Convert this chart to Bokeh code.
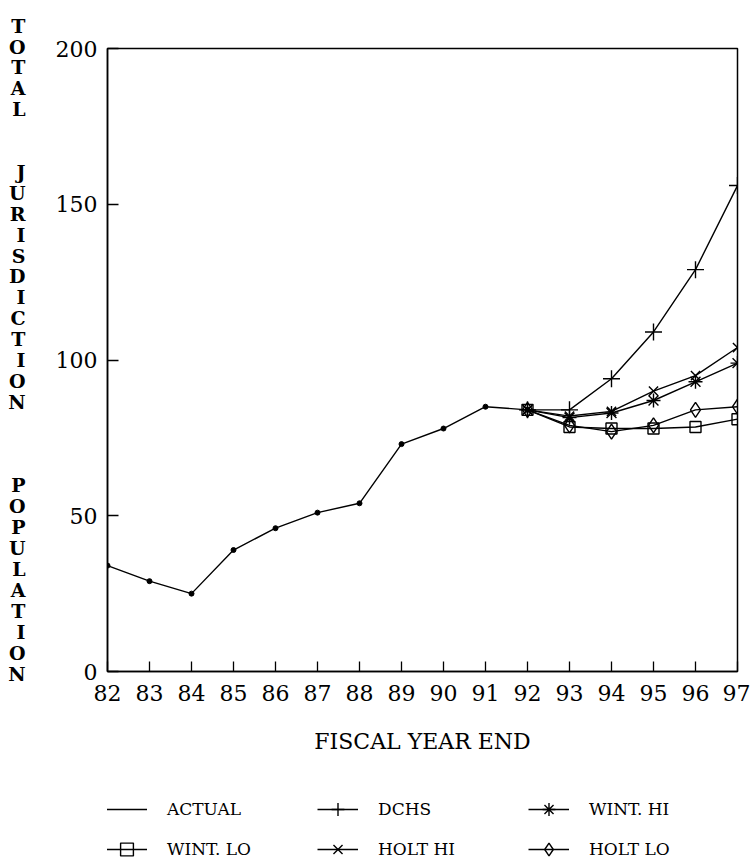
from bokeh.plotting import figure
from bokeh.layouts import column
from bokeh.models import Legend, LegendItem, FixedTicker, Range1d
from bokeh.embed import file_html
from bokeh.resources import INLINE

# ---- data ----
years_actual = [82, 83, 84, 85, 86, 87, 88, 89, 90, 91, 92]
actual = [34, 29, 25, 39, 46, 51, 54, 73, 78, 85, 84]

years_fc = [92, 93, 94, 95, 96, 97]
dchs = [84, 84, 94, 109, 129, 156]
wint_hi = [84, 81.5, 83, 87, 93, 99]
wint_lo = [84, 78.5, 78, 78, 78.5, 81]
holt_hi = [84, 82, 83.5, 90, 95, 104]
holt_lo = [84, 79, 77, 79, 84, 85]

x_ticks = list(range(82, 98))
y_ticks = [0, 50, 100, 150, 200]
x_label = "FISCAL YEAR END"
y_label_words = ["TOTAL", "JURISDICTION", "POPULATION"]
series_names = ["ACTUAL", "DCHS", "WINT. HI", "WINT. LO", "HOLT HI", "HOLT LO"]

FONT = "DejaVu Serif"
LW = 1.4
# marker styles per forecast series (name -> (marker, size))
styles = {"DCHS": ("cross", 17), "WINT. HI": ("asterisk", 14), "WINT. LO": ("square", 11),
          "HOLT HI": ("x", 13), "HOLT LO": ("diamond", 15)}
fc_values = {"DCHS": dchs, "WINT. HI": wint_hi, "WINT. LO": wint_lo,
             "HOLT HI": holt_hi, "HOLT LO": holt_lo}

# ------------------------------------------------------------------ main chart
p = figure(width=750, height=760, output_backend="svg", toolbar_location=None,
           x_range=Range1d(82, 97), y_range=Range1d(0, 200),
           min_border_left=107, min_border_right=13, min_border_top=48,
           min_border_bottom=89)
p.grid.visible = False
p.outline_line_color = "black"
p.outline_line_width = 1.5
p.background_fill_color = "white"
p.border_fill_color = "white"

for ax in (p.xaxis[0], p.yaxis[0]):
    ax.axis_line_color = "black"
    ax.axis_line_width = 1.5
    ax.major_tick_line_color = "black"
    ax.major_tick_line_width = 1.3
    ax.major_tick_out = 0
    ax.minor_tick_line_color = None
    ax.major_label_text_font = FONT
    ax.major_label_text_font_size = "22px"
    ax.major_label_text_color = "black"

p.xaxis.ticker = FixedTicker(ticks=x_ticks)
p.yaxis.ticker = FixedTicker(ticks=y_ticks)
p.xaxis.major_tick_in = 10
p.yaxis.major_tick_in = 11
p.xaxis.major_label_standoff = 13
p.yaxis.major_label_standoff = 10

p.xaxis.axis_label = x_label
p.xaxis.axis_label_text_font = FONT
p.xaxis.axis_label_text_font_size = "22px"
p.xaxis.axis_label_text_font_style = "normal"
p.xaxis.axis_label_text_color = "black"
p.xaxis.axis_label_standoff = 25

# stacked vertical y-axis title (letters one under another)
y_lines = list(y_label_words[0]) + [" ", " "] + list(y_label_words[1]) + [" ", " ", " "] \
    + list(y_label_words[2]) + [" "]
p.yaxis.axis_label = "\n".join(y_lines)
p.yaxis.axis_label_orientation = "horizontal"
p.yaxis.axis_label_text_font = FONT
p.yaxis.axis_label_text_font_style = "bold"
p.yaxis.axis_label_text_font_size = "19px"
p.yaxis.axis_label_text_color = "black"
p.yaxis.axis_label_text_line_height = 0.95
p.yaxis.axis_label_text_align = "center"
p.yaxis.axis_label_standoff = 27

p.line(years_actual, actual, line_color="black", line_width=LW)
p.scatter(years_actual, actual, marker="circle", size=5, color="black")
for name in series_names[1:]:
    marker, size = styles[name]
    p.line(years_fc, fc_values[name], line_color="black", line_width=LW)
    p.scatter(years_fc, fc_values[name], marker=marker, size=size, line_color="black",
              line_width=LW, fill_color=None)

# ------------------------------------------------------------------ legend strip
# (same series drawn again, but outside this strip's ranges: only the legend shows)
lg = figure(width=750, height=103, output_backend="svg", toolbar_location=None,
            x_range=Range1d(0, 1), y_range=Range1d(0, 1),
            x_axis_location=None, y_axis_location=None, min_border=0)
lg.grid.visible = False
lg.outline_line_color = None
lg.border_fill_color = "white"
lg.background_fill_color = "white"

items = []
r = lg.line(years_actual, actual, line_color="black", line_width=LW)
items.append(LegendItem(label=series_names[0], renderers=[r]))
for name in series_names[1:]:
    marker, size = styles[name]
    rl = lg.line(years_fc, fc_values[name], line_color="black", line_width=LW)
    rs = lg.scatter(years_fc, fc_values[name], marker=marker, size=size, line_color="black",
                    line_width=LW, fill_color=None)
    items.append(LegendItem(label=name, renderers=[rl, rs]))

legend = Legend(items=items, orientation="horizontal", ncols=3, location=(-1, -2),
                glyph_width=41, glyph_height=32, label_width=142, label_height=32,
                label_standoff=20, spacing=8, padding=0, margin=0,
                border_line_color=None, background_fill_alpha=0,
                label_text_font=FONT, label_text_font_size="17px", label_text_color="black")
lg.add_layout(legend, "center")

open("out.html", "w").write(file_html(column(p, lg, spacing=0), INLINE))
